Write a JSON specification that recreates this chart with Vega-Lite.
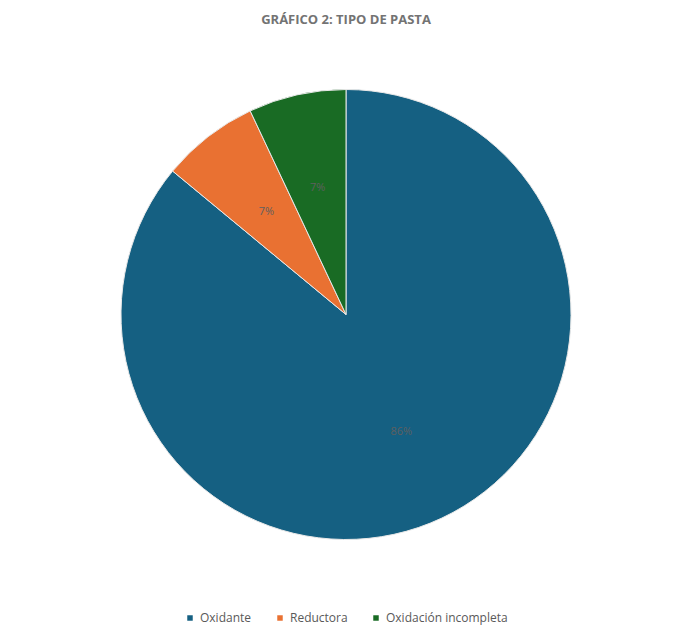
{
  "$schema": "https://vega.github.io/schema/vega-lite/v6.json",
  "width": 692,
  "height": 636,
  "autosize": {"type": "fit", "contains": "padding"},
  "padding": {"top": 14, "bottom": 12, "left": 10, "right": 10},
  "background": "white",
  "title": {
    "text": "GRÁFICO 2: TIPO DE PASTA",
    "font": "Open Sans",
    "fontSize": 13,
    "fontWeight": "bold",
    "color": "#737373",
    "anchor": "middle",
    "offset": 10
  },
  "data": {
    "values": [
      {"tipo": "Oxidante", "valor": 86, "etiqueta": "86%", "orden": 1},
      {"tipo": "Reductora", "valor": 7, "etiqueta": "7%", "orden": 2},
      {"tipo": "Oxidación incompleta", "valor": 7, "etiqueta": "7%", "orden": 3}
    ]
  },
  "encoding": {
    "theta": {"field": "valor", "type": "quantitative", "stack": true},
    "order": {"field": "orden", "type": "quantitative"},
    "color": {
      "field": "tipo",
      "type": "nominal",
      "scale": {
        "domain": ["Oxidante", "Reductora", "Oxidación incompleta"],
        "range": ["#156082", "#E97132", "#196B24"]
      },
      "legend": {
        "title": null,
        "orient": "bottom",
        "direction": "horizontal",
        "symbolType": "square",
        "symbolSize": 30,
        "symbolStrokeWidth": 0,
        "labelFont": "Open Sans",
        "labelFontSize": 12,
        "labelColor": "#595959",
        "columnPadding": 22,
        "offset": 20
      }
    }
  },
  "layer": [
    {
      "mark": {"type": "arc", "outerRadius": 225, "stroke": "#e8e8e8", "strokeWidth": 1}
    },
    {
      "mark": {"type": "text", "radius": 130, "font": "Open Sans", "fontSize": 11},
      "encoding": {
        "text": {"field": "etiqueta", "type": "nominal"},
        "color": {"value": "#5f5f5f"}
      }
    }
  ],
  "config": {
    "view": {"stroke": null},
    "legend": {"layout": {"bottom": {"anchor": "middle"}}}
  }
}
